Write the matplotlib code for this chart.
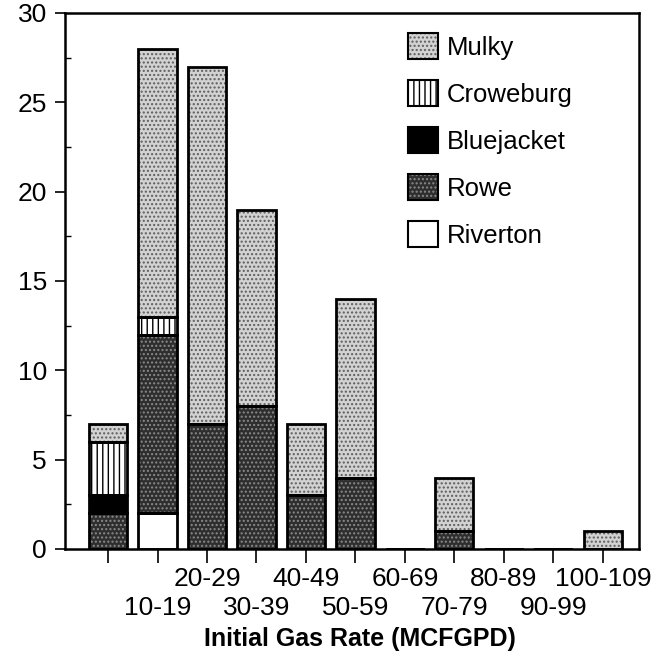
import matplotlib
matplotlib.use("Agg")
import matplotlib.pyplot as plt
import numpy as np
from matplotlib.patches import Patch
from matplotlib.legend_handler import HandlerTuple

plt.rcParams['font.family'] = ['Liberation Sans', 'DejaVu Sans']

categories = ["0-9", "10-19", "20-29", "30-39", "40-49", "50-59",
              "60-69", "70-79", "80-89", "90-99", "100-109"]
tick_labels = ["", "10-19", "20-29", "30-39", "40-49", "50-59",
               "60-69", "70-79", "80-89", "90-99", "100-109"]
riverton   = [0, 2, 0, 0, 0, 0, 0, 0, 0, 0, 0]
rowe       = [2, 10, 7, 8, 3, 4, 0, 1, 0, 0, 0]
bluejacket = [1, 0, 0, 0, 0, 0, 0, 0, 0, 0, 0]
croweburg  = [3, 1, 0, 0, 0, 0, 0, 0, 0, 0, 0]
mulky      = [1, 15, 20, 11, 4, 10, 0, 3, 0, 0, 1]

series = [
    ("Riverton", riverton, dict(fc="white", hatch=None, hc="white")),
    ("Rowe", rowe, dict(fc="#2e2e2e", hatch="....", hc="#8a8a8a")),
    ("Bluejacket", bluejacket, dict(fc="black", hatch=None, hc="black")),
    ("Croweburg", croweburg, dict(fc="white", hatch="|||", hc="black")),
    ("Mulky", mulky, dict(fc="#d2d2d2", hatch="....", hc="#5e5e5e")),
]

fig = plt.figure(figsize=(6.65, 6.61), dpi=100)
ax = fig.add_axes([65/665, (661-549)/661, (639-65)/665, (549-13)/661])

x = np.arange(len(categories))
width = 0.77
bottom = np.zeros(len(categories))
handles = {}
plt.rcParams['hatch.linewidth'] = 1.0
for name, vals, st in series:
    vals = np.array(vals, dtype=float)
    ax.bar(x, vals, width, bottom=bottom, color=st["fc"],
           edgecolor=st["hc"], hatch=st["hatch"], linewidth=0, zorder=2)
    ax.bar(x, vals, width, bottom=bottom, facecolor="none",
           edgecolor="black", linewidth=2.0, zorder=3)
    fh = Patch(facecolor=st["fc"], edgecolor=st["hc"], hatch=st["hatch"], linewidth=0)
    oh = Patch(facecolor="none", edgecolor="black", linewidth=1.5)
    handles[name] = (fh, oh)
    bottom += vals

ax.set_xlim(-0.87, 10.73)
ax.set_ylim(0, 30)
ax.set_yticks([0, 5, 10, 15, 20, 25, 30])
ax.set_yticks(np.arange(2.5, 30, 5), minor=True)
ax.tick_params(axis='y', which='major', direction='out', length=7, width=1.2,
               labelsize=19, pad=6)
ax.tick_params(axis='y', which='minor', direction='in', length=4, width=1.0)

# staggered category labels: odd positions in the lower row, even in the upper row
ax.set_xticks(x[1::2], [tick_labels[i] for i in x[1::2]])
ax.set_xticks(x[0::2], [tick_labels[i] for i in x[0::2]], minor=True)
ax.tick_params(axis='x', which='major', direction='out', length=10, width=1.2,
               labelsize=19, pad=24)
ax.tick_params(axis='x', which='minor', direction='out', length=10, width=1.2,
               labelsize=19, pad=3)
for s in ax.spines.values():
    s.set_linewidth(1.8)

ax.set_xlabel("Initial Gas Rate (MCFGPD)", fontsize=18, fontweight='bold')
ax.xaxis.set_label_coords(0.514, -0.146)

order = ["Mulky", "Croweburg", "Bluejacket", "Rowe", "Riverton"]
ax.legend([handles[n] for n in order], order,
          handler_map={tuple: HandlerTuple(ndivide=1, pad=0)},
          loc='upper left', bbox_to_anchor=(0.5976, 0.962), frameon=False,
          fontsize=18.5, handlelength=1.17, handleheight=1.17,
          labelspacing=0.79, handletextpad=0.35, borderpad=0, borderaxespad=0)

fig.savefig("out.png", dpi=100)
